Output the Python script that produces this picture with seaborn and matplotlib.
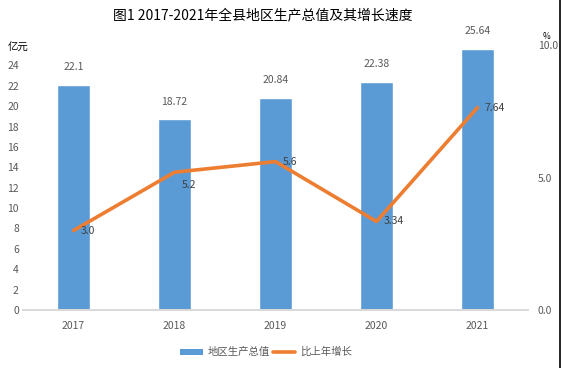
import matplotlib
matplotlib.use("Agg")
import matplotlib.pyplot as plt
from matplotlib.lines import Line2D
from matplotlib.patches import Patch
import pandas as pd
import seaborn as sns

years = ["2017", "2018", "2019", "2020", "2021"]
gdp = [22.1, 18.72, 20.84, 22.38, 25.64]          # 亿元
growth = [3.0, 5.2, 5.6, 3.34, 7.64]              # %
growth_labels = ["3.0", "5.2", "5.6", "3.34", "7.64"]

BLUE = "#5B9BD5"
ORANGE = "#ED7D31"
GRAY = "#595959"

sns.set_theme(style="white")
plt.rcParams["font.family"] = ["Noto Sans CJK SC", "DejaVu Sans"]

df = pd.DataFrame({"year": years, "gdp": gdp, "growth": growth})

fig = plt.figure(figsize=(5.62, 3.68), dpi=100)
ax = fig.add_axes([0.041, 0.1576, 0.8985, 0.7201])

sns.barplot(data=df, x="year", y="gdp", color=BLUE, width=0.32,
            saturation=1, ax=ax)
ax.set_ylim(0, 26)
ax.set_yticks(range(0, 25, 2))
ax.set_xlabel("")
ax.set_ylabel("")
for lab, v in zip(years, gdp):
    ax.annotate(f"{v:g}", (years.index(lab), v), xytext=(0, 9),
                textcoords="offset points", ha="center", va="bottom",
                fontsize=7.5, color=GRAY)

ax2 = ax.twinx()
sns.lineplot(data=df, x="year", y="growth", color=ORANGE, linewidth=2.6,
             sort=False, ax=ax2)
ax2.set_ylim(0, 10)
ax2.set_yticks([0, 5, 10])
ax2.set_yticklabels(["0.0", "5.0", "10.0"])
ax2.set_ylabel("")
# label offsets (points) for the growth values
offs = [(5, 0), (5, -9), (5, 0), (5, 0), (5, 0)]
for i, (v, t) in enumerate(zip(growth, growth_labels)):
    ax2.annotate(t, (i, v), xytext=offs[i], textcoords="offset points",
                 ha="left", va="center", fontsize=7.5, color="#404040")

for a in (ax, ax2):
    for s in ["top", "left", "right"]:
        a.spines[s].set_visible(False)
    a.spines["bottom"].set_color("#D9D9D9")
    a.tick_params(axis="both", length=0, labelsize=7.5, labelcolor=GRAY)
ax.tick_params(axis="y", pad=3)
ax.tick_params(axis="x", pad=8)
ax2.tick_params(axis="y", pad=7)
ax.set_xlim(-0.5, 4.5)

fig.text(0.467, 0.958, "图1 2017-2021年全县地区生产总值及其增长速度",
         ha="center", va="center", fontsize=10, color="black")
fig.text(0.014, 0.87, "亿元", ha="left", va="center", fontsize=7.5, color="black")
fig.text(0.972, 0.9, "%", ha="center", va="center", fontsize=6, color="black")

handles = [Patch(facecolor=BLUE, edgecolor="none"),
           Line2D([0], [0], color=ORANGE, linewidth=2.6)]
fig.legend(handles, ["地区生产总值", "比上年增长"], loc="center",
           bbox_to_anchor=(0.473, 0.043), ncol=2, frameon=False, fontsize=7.5,
           handlelength=2.2, handleheight=0.5, columnspacing=0.3,
           handletextpad=0.4, labelcolor=GRAY)

fig.add_artist(Line2D([0.997, 0.997], [0, 1], transform=fig.transFigure,
                      color="black", linewidth=1.2))

fig.savefig("out.png", dpi=100)
